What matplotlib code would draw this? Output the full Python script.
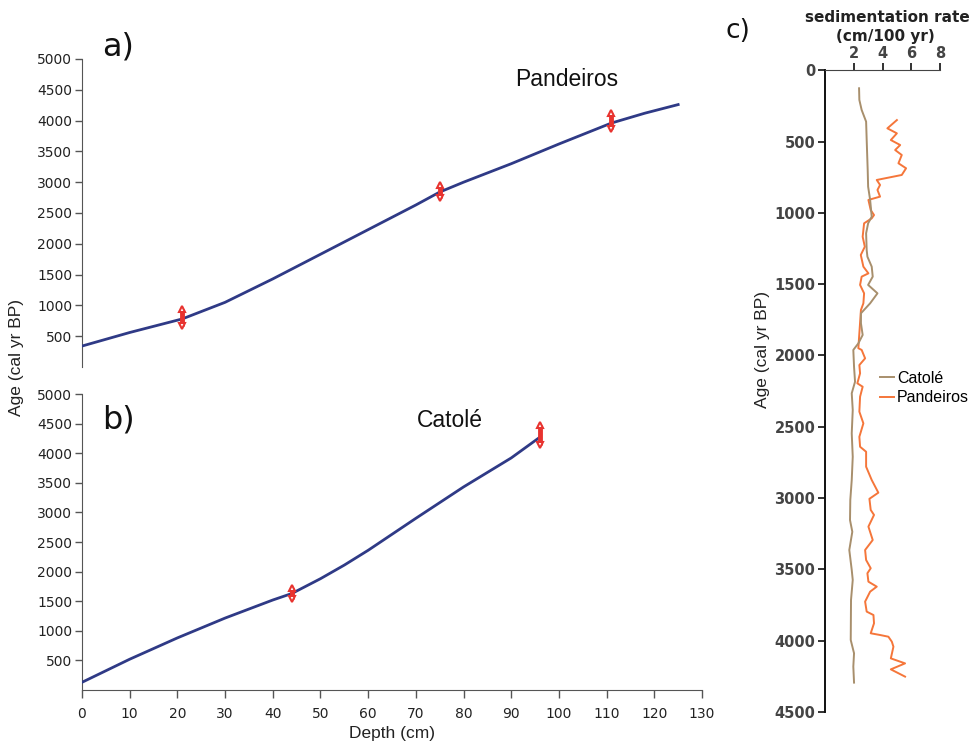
import matplotlib
matplotlib.use("Agg")
import matplotlib.pyplot as plt
import numpy as np

# ---------------- data ----------------
# Panel a) Pandeiros age-depth model
pan_depth = [0, 10, 21, 30, 40, 50, 60, 70, 75, 80, 90, 100, 111, 118, 125]
pan_age = [340, 560, 780, 1050, 1430, 1830, 2230, 2630, 2840, 3000, 3300, 3620, 3960, 4120, 4260]
pan_dates_depth = [21, 75, 111]
pan_dates_low = [660, 2750, 3870]
pan_dates_high = [940, 2960, 4130]

# Panel b) Catolé age-depth model
cat_depth = [0, 10, 20, 30, 40, 44, 50, 55, 60, 65, 70, 80, 90, 96]
cat_age = [130, 520, 880, 1215, 1520, 1630, 1880, 2110, 2360, 2630, 2900, 3430, 3920, 4270]
cat_dates_depth = [44, 96]
cat_dates_low = [1530, 4140]
cat_dates_high = [1730, 4480]

# Panel c) sedimentation rates
cat_rate_age = [126, 208, 278, 360, 489, 699, 816, 909, 1027, 1073, 1143, 1260, 1307, 1377,
                1447, 1505, 1564, 1634, 1704, 1774, 1856, 1915, 1961, 2079, 2184, 2265, 2382,
                2546, 2710, 2873, 3013, 3154, 3236, 3364, 3504, 3574, 3714, 3995, 4088, 4182, 4294]
cat_rate = [2.37, 2.39, 2.55, 2.86, 2.9, 2.97, 3.0, 3.14, 3.25, 3.0, 2.86, 2.9, 2.95, 3.25,
            3.32, 3.0, 3.65, 3.14, 2.5, 2.5, 2.62, 2.32, 1.97, 2.02, 2.09, 1.86, 1.93,
            1.86, 1.93, 1.86, 1.76, 1.74, 1.9, 1.69, 1.86, 1.93, 1.81, 1.79, 2.02, 1.97, 2.02]

pan_rate_age = [349, 407, 442, 489, 524, 559, 594, 652, 687, 734, 769, 804, 839, 886, 909,
                980, 1015, 1038, 1073, 1167, 1237, 1295, 1377, 1424, 1447, 1505, 1564, 1634,
                1681, 1844, 1949, 1961, 2020, 2067, 2125, 2195, 2219, 2289, 2394, 2476, 2570,
                2640, 2675, 2780, 2873, 2962, 3005, 3083, 3118, 3200, 3294, 3364, 3434, 3492,
                3527, 3586, 3621, 3656, 3726, 3796, 3820, 3878, 3948, 3960, 3972, 4007, 4042,
                4124, 4159, 4201, 4252]
pan_rate = [5.0, 4.34, 5.0, 4.58, 5.23, 4.88, 5.34, 5.11, 5.64, 5.34, 3.6, 3.83, 3.65, 3.83, 3.02,
            3.18, 3.41, 3.25, 2.72, 2.62, 2.77, 2.49, 2.67, 3.02, 2.55, 2.44, 2.72, 2.67,
            2.5, 2.39, 2.32, 2.55, 2.79, 2.39, 2.44, 2.25, 2.62, 2.44, 2.39, 2.67, 2.39,
            2.44, 2.86, 2.86, 3.25, 3.71, 3.09, 3.18, 3.41, 3.02, 3.32, 2.79, 2.86, 3.18,
            2.95, 3.02, 3.6, 3.14, 2.79, 2.9, 3.37, 3.41, 3.18, 3.83, 4.41, 4.65, 4.76,
            4.58, 5.57, 4.58, 5.57]

depth_ticks = list(range(0, 131, 10))
age_ticks_ab = list(range(500, 5001, 500))
age_ticks_c = list(range(0, 4501, 500))
rate_ticks = [2, 4, 6, 8]

# ---------------- style ----------------
navy = "#2f3a86"
red = "#e8332f"
brown = "#a88f6c"
orange = "#f5763a"
tick_col = "#222222"
arial = "Liberation Sans"

W, H = 973, 744
fig = plt.figure(figsize=(W / 100, H / 100), dpi=100)

def fax(x0, y0, x1, y1):
    # pixel box (left, top, right, bottom) to figure fraction axes
    return fig.add_axes([x0 / W, 1 - y1 / H, (x1 - x0) / W, (y1 - y0) / H])

ax_a = fax(82, 59, 702, 367)
ax_b = fax(82, 394, 702, 690)
ax_c = fax(825, 70.3, 940, 712)

def draw_dates(ax, d, lo, hi):
    ax.vlines(d, lo, hi, color=red, lw=3.5, zorder=4)
    ax.plot(d, hi, linestyle="none", marker="^", ms=5, mfc="white", mec=red, mew=1.5, zorder=5)
    ax.plot(d, lo, linestyle="none", marker="v", ms=5, mfc="white", mec=red, mew=1.5, zorder=5)

for ax in (ax_a, ax_b):
    ax.set_xlim(0, 130)
    ax.set_ylim(0, 5000)
    ax.set_yticks(age_ticks_ab)
    ax.spines["top"].set_visible(False)
    ax.spines["right"].set_visible(False)
    ax.spines["left"].set_color("#555555")
    ax.spines["left"].set_bounds(0, 5000)
    ax.tick_params(axis="y", direction="out", length=5, width=1, color="#555555",
                   labelsize=10, labelcolor=tick_col, pad=2)

ax_a.plot(pan_depth, pan_age, color=navy, lw=2, zorder=3)
draw_dates(ax_a, pan_dates_depth, pan_dates_low, pan_dates_high)
ax_a.spines["bottom"].set_visible(False)
ax_a.set_xticks([])

ax_b.plot(cat_depth, cat_age, color=navy, lw=2, zorder=3)
draw_dates(ax_b, cat_dates_depth, cat_dates_low, cat_dates_high)
ax_b.set_xticks(depth_ticks)
ax_b.spines["bottom"].set_color("#555555")
ax_b.tick_params(axis="x", direction="out", length=6, width=1, color="#555555",
                 labelsize=10, labelcolor=tick_col, pad=6)
ax_b.set_xlabel("Depth (cm)", fontsize=12.5, family=arial, color="#222222", labelpad=4)

def ftext(x, y, s, **kw):
    fig.text(x / W, 1 - y / H, s, ha="center", va="center", **kw)

ftext(118, 47, "a)", fontsize=23, family="DejaVu Sans", color="#111111")
ftext(118, 420, "b)", fontsize=23, family="DejaVu Sans", color="#111111")
ftext(738, 31, "c)", fontsize=19, family="DejaVu Sans", color="#111111")
ftext(567, 80, "Pandeiros", fontsize=16.5, family=arial, color="#111111")
ftext(450, 420, "Catolé", fontsize=16.5, family=arial, color="#111111")
ftext(17, 358, "Age (cal yr BP)", fontsize=12.5, family=arial, color="#222222", rotation=90)
ftext(763, 350, "Age (cal yr BP)", fontsize=12.5, family=arial, color="#222222", rotation=90)
ftext(887, 17, "sedimentation rate", fontsize=11, family="DejaVu Sans", weight="bold", color="#222222")
ftext(885, 36, "(cm/100 yr)", fontsize=11, family="DejaVu Sans", weight="bold", color="#222222")

# panel c
ax_c.plot(cat_rate, cat_rate_age, color=brown, lw=1.4, label="Catolé", zorder=3)
ax_c.plot(pan_rate, pan_rate_age, color=orange, lw=1.4, label="Pandeiros", zorder=2)
ax_c.set_xlim(0, 8)
ax_c.set_ylim(4500, 0)
ax_c.set_xticks(rate_ticks)
ax_c.set_yticks(age_ticks_c)
ax_c.xaxis.tick_top()
ax_c.spines["bottom"].set_visible(False)
ax_c.spines["right"].set_visible(False)
ax_c.spines["left"].set_color("#111111")
ax_c.spines["left"].set_linewidth(1.4)
ax_c.spines["top"].set_color("#444444")
ax_c.tick_params(axis="both", direction="out", length=5, width=1.3, color="#222222",
                 labelsize=10.5, labelcolor="#444444", pad=2)
for lab in ax_c.get_xticklabels() + ax_c.get_yticklabels():
    lab.set_fontweight("bold")
leg = ax_c.legend(loc="center left", bbox_to_anchor=((880 - 825) / 115, 1 - (388 - 70.3) / 641.7),
                  frameon=False, prop={"family": arial, "size": 11.5}, handlelength=0.9,
                  handletextpad=0.15, labelspacing=0.3, borderaxespad=0, borderpad=0)

fig.savefig("out.png", dpi=100, facecolor="white")
